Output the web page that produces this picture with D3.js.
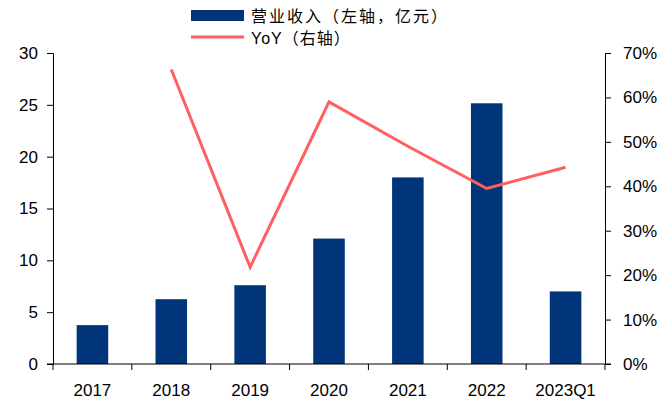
<!DOCTYPE html>
<html>
<head>
<meta charset="utf-8">
<script src="https://cdn.jsdelivr.net/npm/d3@7"></script>
<style>
  body { margin: 0; background: #fff; }
  text { font-family: "Liberation Sans", Arial, "Noto Sans CJK SC", sans-serif; }
</style>
</head>
<body>
<div class="chart"></div>
<script>
// Data
const years = ["2017", "2018", "2019", "2020", "2021", "2022", "2023Q1"];
const revenue = [3.75, 6.25, 7.6, 12.1, 18.0, 25.15, 7.0];
const yoyYears = ["2018", "2019", "2020", "2021", "2022", "2023Q1"];
const yoy = [66.3, 21.8, 59.0, 49.0, 39.5, 44.3];
const leftTicks = [0, 5, 10, 15, 20, 25, 30];
const rightTicks = [0, 10, 20, 30, 40, 50, 60, 70];

const width = 662;
const height = 409;
const margin = { top: 53, right: 57, bottom: 45, left: 53 };
const innerWidth = width - margin.left - margin.right;
const innerHeight = height - margin.top - margin.bottom;

const svg = d3.select(".chart")
  .append("svg")
  .attr("width", width)
  .attr("height", height);

const chart = svg.append("g")
  .attr("transform", `translate(${margin.left}, ${margin.top})`);

// Scales
const xScale = d3.scaleBand()
  .domain(years)
  .range([0, innerWidth])
  .paddingInner(0.6)
  .paddingOuter(0.3);

const xBand = d3.scaleBand()
  .domain(years)
  .range([0, innerWidth]);

const yLeft = d3.scaleLinear().domain([0, 30]).range([innerHeight, 0]);
const yRight = d3.scaleLinear().domain([0, 70]).range([innerHeight, 0]);

// Bars
chart.selectAll(".bar")
  .data(years)
  .enter()
  .append("rect")
  .attr("class", "bar")
  .attr("x", d => xScale(d))
  .attr("width", xScale.bandwidth())
  .attr("y", (d, i) => yLeft(revenue[i]))
  .attr("height", (d, i) => innerHeight - yLeft(revenue[i]))
  .attr("fill", "#003579");

// YoY line
const line = d3.line()
  .x((d, i) => xBand(yoyYears[i]) + xBand.bandwidth() / 2)
  .y(d => yRight(d));

chart.append("path")
  .datum(yoy)
  .attr("d", line)
  .attr("fill", "none")
  .attr("stroke", "#FF5F5F")
  .attr("stroke-width", 3);

// Axes
const leftAxis = chart.append("g")
  .call(d3.axisLeft(yLeft).tickValues(leftTicks).tickSize(6).tickPadding(9));

const rightAxis = chart.append("g")
  .attr("transform", `translate(${innerWidth}, 0)`)
  .call(d3.axisRight(yRight).tickValues(rightTicks).tickSize(6).tickPadding(12)
    .tickFormat(d => d + "%"));

// x axis: ticks at band boundaries
const xAxis = chart.append("g")
  .attr("transform", `translate(0, ${innerHeight})`);

xAxis.append("line")
  .attr("x1", -6).attr("x2", innerWidth + 6)
  .attr("stroke", "#000");

const boundaries = years.map(d => xBand(d)).concat([innerWidth]);
xAxis.selectAll(".xtick")
  .data(boundaries)
  .enter()
  .append("line")
  .attr("x1", d => d).attr("x2", d => d)
  .attr("y1", 0).attr("y2", 6)
  .attr("stroke", "#000");

xAxis.selectAll(".xlabel")
  .data(years)
  .enter()
  .append("text")
  .attr("x", d => xBand(d) + xBand.bandwidth() / 2)
  .attr("y", 32)
  .attr("text-anchor", "middle")
  .attr("font-size", 17)
  .attr("fill", "#000")
  .text(d => d);

[leftAxis, rightAxis].forEach(ax => {
  ax.select(".domain").attr("stroke", "#000");
  ax.selectAll(".tick line").attr("stroke", "#000");
  ax.selectAll(".tick text")
    .attr("font-size", 17)
    .attr("font-family", "Liberation Sans, Arial, sans-serif")
    .attr("fill", "#000");
});

// Legend
const legend = svg.append("g");
legend.append("rect")
  .attr("x", 191).attr("y", 10)
  .attr("width", 53).attr("height", 11)
  .attr("fill", "#003579");
legend.append("text")
  .attr("x", 251).attr("y", 22)
  .attr("font-size", 16)
  .attr("letter-spacing", 2)
  .attr("font-family", "Noto Sans CJK SC, sans-serif")
  .attr("fill", "#000")
  .text("营业收入（左轴，亿元）");
legend.append("line")
  .attr("x1", 191).attr("x2", 244)
  .attr("y1", 37).attr("y2", 37)
  .attr("stroke", "#FF5F5F")
  .attr("stroke-width", 3);
legend.append("text")
  .attr("x", 251).attr("y", 44)
  .attr("font-size", 16)
  .attr("letter-spacing", 1)
  .attr("fill", "#000")
  .text("YoY（右轴）");
</script>
</body>
</html>
